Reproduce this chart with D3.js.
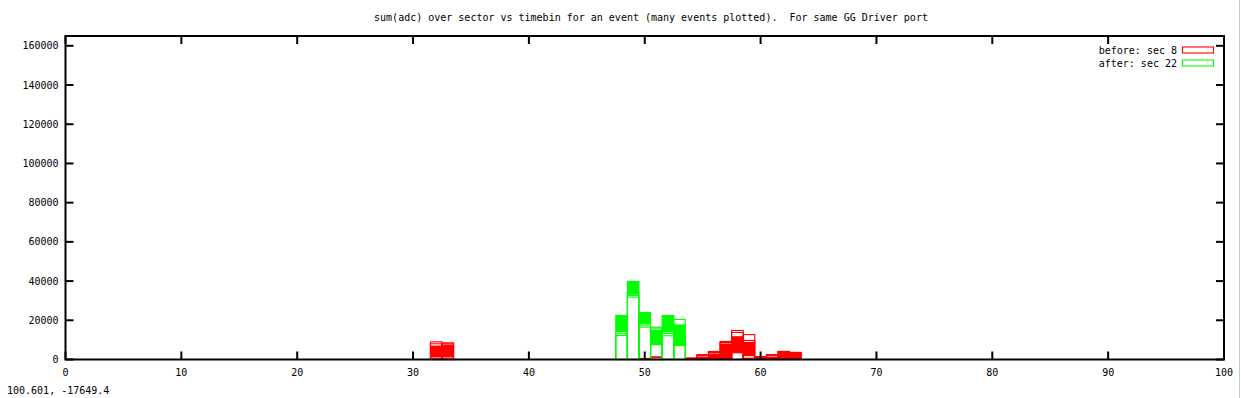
<!DOCTYPE html>
<html><head><meta charset="utf-8">
<script src="https://cdn.jsdelivr.net/npm/d3@7"></script>
<style>
html,body{margin:0;padding:0;background:#fff;}
svg text{font-family:"DejaVu Sans Mono",monospace;font-size:10px;fill:#000;white-space:pre;}
</style></head>
<body>
<svg id="c" width="1241" height="398"></svg>
<script>
const titleText = "sum(adc) over sector vs timebin for an event (many events plotted).  For same GG Driver port";
const coordText = "100.601, -17649.4";
const xTicks = [0,10,20,30,40,50,60,70,80,90,100];
const yTicks = [0,20000,40000,60000,80000,100000,120000,140000,160000];

// before: sec 8 (red) — per timebin envelope of many overlaid events
const redBins = [32,33,50,51,54,55,56,57,58,59,60,61,62,63];
const redTop  = [9000,8500,500,1200,700,2500,4100,9200,14800,12700,1500,2500,4100,3600];
const redMid  = [8000,8000,500,1200,700,2000,3600,8700,13800,9700,1500,2000,4100,3600];
const redHi   = [7100,7600,0,0,700,1500,3100,8200,11900,9000,1500,1500,4100,3600];
const redLo   = [1200,1200,0,0,0,0,0,0,3400,1700,0,0,0,0];
const redLow  = [700,700,500,1200,0,0,0,0,3400,700,0,0,0,0];

// after: sec 22 (green)
const greenBins = [48,49,50,51,52,53];
const greenTop  = [22400,39800,24000,16500,22400,20400];
const greenMid  = [13100,32600,17500,16000,13300,11600];
const greenHi   = [22400,39800,24000,15200,22400,17900];
const greenLo   = [13900,33000,18000,7600,13800,7100];
const greenLow  = [12200,31800,16500,7600,12100,7100];

const series = [
  {name:"before: sec 8", color:"#ff0000", bins:redBins, top:redTop, mid:redMid, hi:redHi, lo:redLo, low:redLow},
  {name:"after: sec 22", color:"#00ff00", bins:greenBins, top:greenTop, mid:greenMid, hi:greenHi, lo:greenLo, low:greenLow}
];

const svg = d3.select("#c");
const L=65.5, R=1224, T=36, B=359.5;
const x = d3.scaleLinear().domain([0,100]).range([L,R]);
const y = d3.scaleLinear().domain([0,165000]).range([B,T]);

// title
svg.append("text").attr("x",651).attr("y",21).attr("text-anchor","middle").attr("xml:space","preserve").text(titleText);
svg.append("text").attr("x",7).attr("y",394).text(coordText);
// window edge
svg.append("line").attr("x1",1239.5).attr("x2",1239.5).attr("y1",0).attr("y2",398).attr("stroke","#c8c8c8").attr("stroke-width",1);

const g = svg.append("g");
series.forEach(s=>{
  const sg = g.append("g");
  s.bins.forEach((b,i)=>{
    const x0 = x(b-0.5), x1 = x(b+0.5);
    if (s.hi[i] > s.lo[i]) {
      sg.append("rect").attr("x",x0).attr("width",x1-x0)
        .attr("y",y(s.hi[i])).attr("height",y(s.lo[i])-y(s.hi[i]))
        .attr("fill",s.color);
    }
    [s.top[i], s.mid[i], s.low[i]].forEach(v=>{
      sg.append("rect").attr("x",x0).attr("width",x1-x0)
        .attr("y",y(v)).attr("height",y(0)-y(v))
        .attr("fill","none").attr("stroke",s.color).attr("stroke-width",1.1);
    });
  });
});

// axes ticks (inside, mirrored)
const axG = svg.append("g");
const tl = 8;
xTicks.forEach(t=>{
  axG.append("line").attr("x1",x(t)).attr("x2",x(t)).attr("y1",B).attr("y2",B-tl).attr("stroke","#000").attr("stroke-width",2);
  axG.append("line").attr("x1",x(t)).attr("x2",x(t)).attr("y1",T).attr("y2",T+tl).attr("stroke","#000").attr("stroke-width",2);
  axG.append("text").attr("x",x(t)).attr("y",376).attr("text-anchor","middle").text(t);
});
yTicks.forEach(t=>{
  axG.append("line").attr("x1",L).attr("x2",L+tl).attr("y1",y(t)).attr("y2",y(t)).attr("stroke","#000").attr("stroke-width",2);
  axG.append("line").attr("x1",R).attr("x2",R-tl).attr("y1",y(t)).attr("y2",y(t)).attr("stroke","#000").attr("stroke-width",2);
  axG.append("text").attr("x",58.5).attr("y",y(t)+3.5).attr("text-anchor","end").text(t);
});
// frame
svg.append("rect").attr("x",L).attr("y",T).attr("width",R-L).attr("height",B-T)
  .attr("fill","none").attr("stroke","#000").attr("stroke-width",2);

// legend
series.forEach((s,i)=>{
  const yy = 50 + i*13;
  svg.append("text").attr("x",1177).attr("y",yy+3.5).attr("text-anchor","end").text(s.name);
  svg.append("rect").attr("x",1182.5).attr("y",yy-3).attr("width",31).attr("height",6)
    .attr("fill","#fff").attr("stroke",s.color).attr("stroke-width",1.1);
});
</script>
</body></html>
